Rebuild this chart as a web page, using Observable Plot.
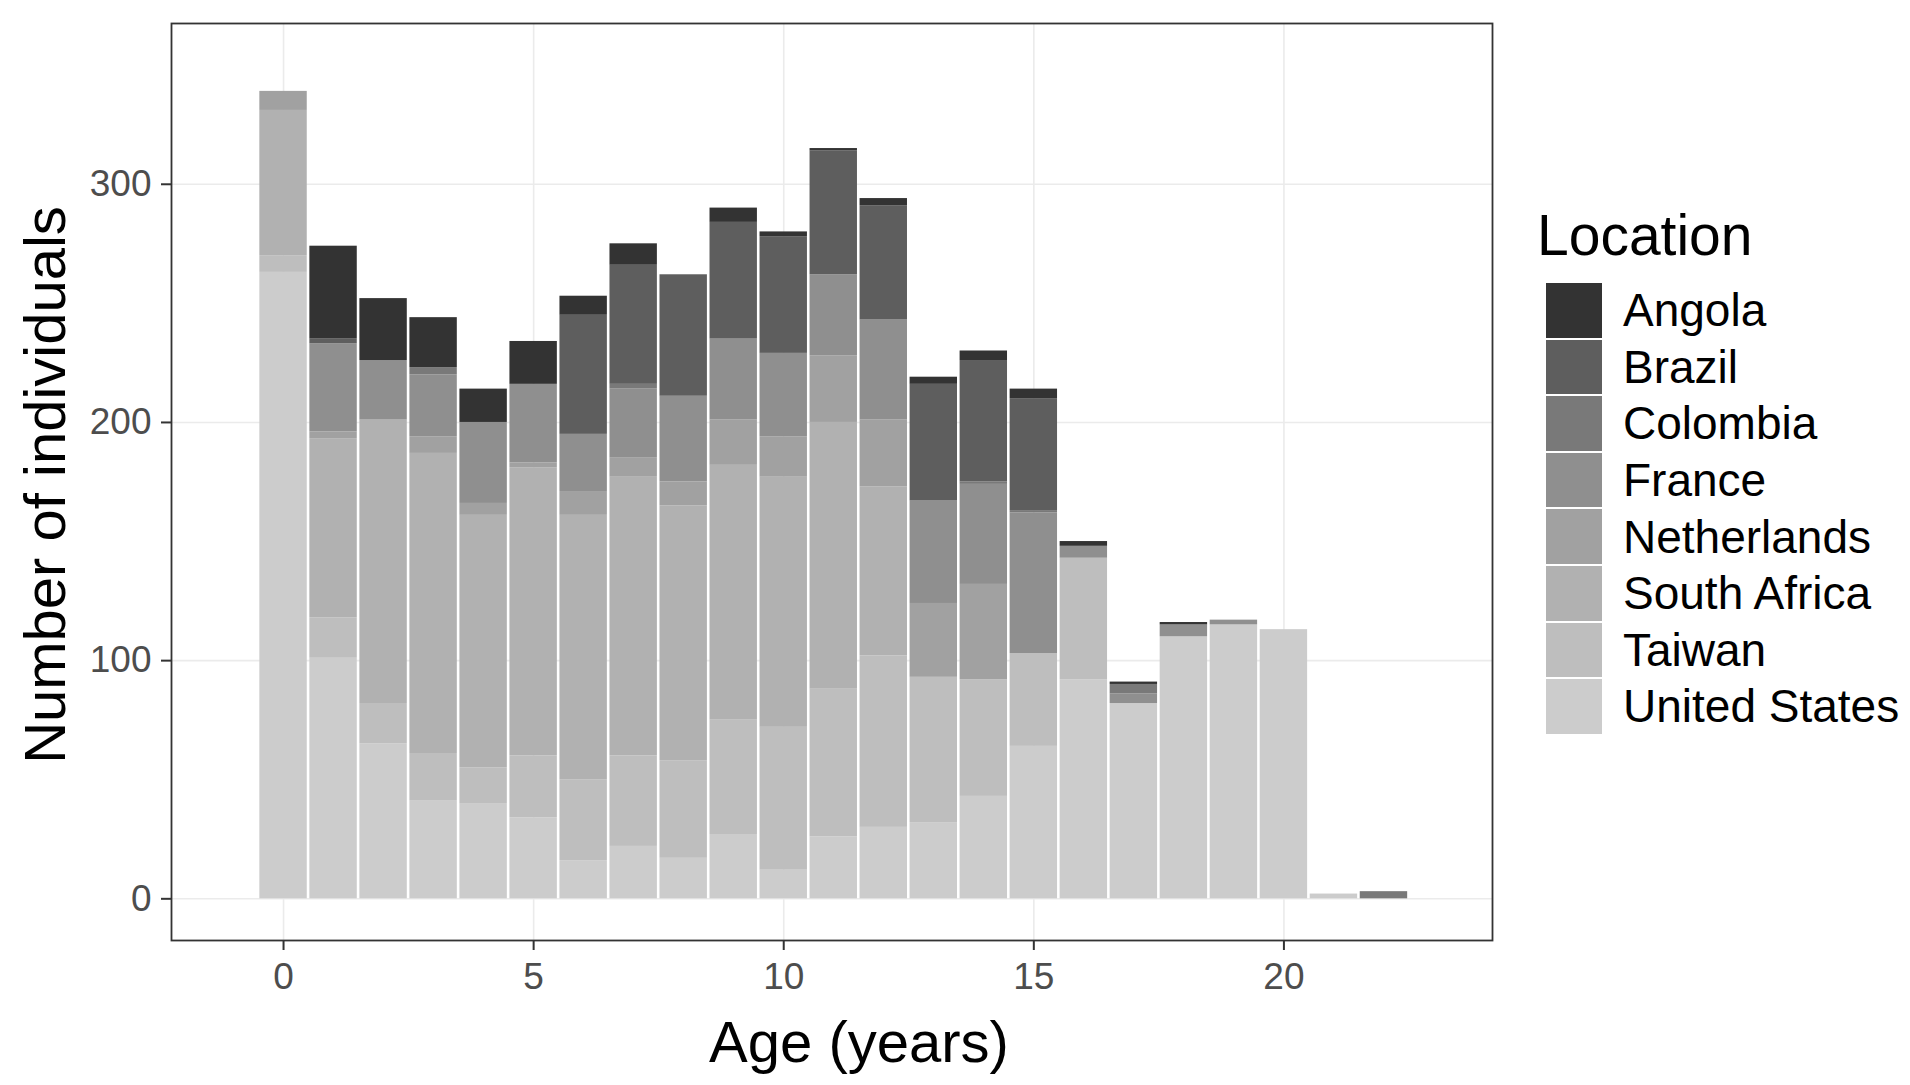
<!DOCTYPE html>
<html>
<head>
<meta charset="utf-8">
<script src="https://cdn.jsdelivr.net/npm/d3@7"></script>
<script src="https://cdn.jsdelivr.net/npm/@observablehq/plot@0.6"></script>
<style>
  html, body { margin: 0; padding: 0; background: #ffffff; }
  #wrap { position: relative; width: 1910px; height: 1085px; font-family: "Liberation Sans", Arial, sans-serif; }
  #chart svg g[aria-label="x-axis tick label"] text,
  #chart svg g[aria-label="y-axis tick label"] text { fill: #4D4D4D; }
  #legend { position: absolute; left: 1537px; top: 0px; }
  #legend .title { position: absolute; left: 0px; top: 207px; font-size: 57px; color: #000; white-space: nowrap; line-height: 1; }
  #legend .item { position: absolute; left: 9px; height: 56.6px; display: flex; align-items: center; white-space: nowrap; }
  #legend .sw { width: 56px; height: 54.6px; margin-bottom: 2px; }
  #legend .lab { font-size: 46px; color: #000; margin-left: 21px; line-height: 1; margin-bottom: 2px; }
</style>
</head>
<body>
<div id="wrap">
  <div id="chart"></div>
  <div id="legend"></div>
</div>
<script>
// ---- data ----
const ages = [0,1,2,3,4,5,6,7,8,9,10,11,12,13,14,15,16,17,18,19,20,21,22];
const locations = ["Angola","Brazil","Colombia","France","Netherlands","South Africa","Taiwan","United States"];
const greys = ["#333333","#5E5E5E","#797979","#8F8F8F","#A1A1A1","#B1B1B1","#BEBEBE","#CCCCCC"];

const angola       = [0,39,26,21,14,18,8,9,0,6,2,1,3,3,4,4,2,1,1,0,0,0,0];
const brazil       = [0,2,0,0,0,0,50,50,51,49,49,52,48,49,51,47,0,0,0,0,0,0,0];
const colombia     = [0,0,0,3,0,0,0,2,0,0,0,0,0,0,1,1,0,4,0,0,0,0,3];
const france       = [0,37,25,26,34,33,24,29,36,34,35,34,42,43,42,59,5,4,5,2,0,0,0];
const netherlands  = [8,3,0,7,5,2,10,8,10,19,17,28,28,31,40,0,0,0,0,0,0,0,0];
const southAfrica  = [61,75,119,126,106,121,111,117,107,107,105,112,71,0,0,0,0,0,0,0,0,0,0];
const taiwan       = [7,17,17,20,15,26,34,38,41,48,60,62,72,61,49,39,51,0,0,0,0,0,0];
const unitedStates = [263,101,65,41,40,34,16,22,17,27,12,26,30,32,43,64,92,82,110,115,113,2,0];

const xTicks = [0,5,10,15,20];
const yTicks = [0,100,200,300];
const xLabel = "Age (years)";
const yLabel = "Number of individuals";
const legendTitle = "Location";

// ---- build table ----
const series = {
  "Angola": angola, "Brazil": brazil, "Colombia": colombia, "France": france,
  "Netherlands": netherlands, "South Africa": southAfrica, "Taiwan": taiwan, "United States": unitedStates
};
const rows = [];
ages.forEach((age, i) => {
  // bottom of stack first: United States ... Angola on top
  locations.slice().reverse().forEach(loc => {
    const v = series[loc][i];
    if (v > 0) rows.push({age, location: loc, count: v});
  });
});

const font = "'Liberation Sans', Arial, sans-serif";

const chart = Plot.plot({
  width: 1910,
  height: 1085,
  marginLeft: 171,
  marginRight: 418,
  marginTop: 23,
  marginBottom: 145,
  style: {fontFamily: font, background: "#ffffff", overflow: "visible"},
  x: {domain: [-2.24, 24.17]},
  y: {domain: [-17.5, 367.5]},
  color: {domain: locations, range: greys},
  marks: [
    Plot.gridX(xTicks, {stroke: "#EBEBEB", strokeOpacity: 1, strokeWidth: 1.6}),
    Plot.gridY(yTicks, {stroke: "#EBEBEB", strokeOpacity: 1, strokeWidth: 1.6}),
    Plot.rectY(rows, {
      x1: d => d.age - 0.5,
      x2: d => d.age + 0.5,
      y: "count",
      fill: "location",
      insetLeft: 1.3,
      insetRight: 1.3
    }),
    Plot.frame({stroke: "#333333", strokeWidth: 1.8}),
    Plot.axisX({ticks: xTicks, tickSize: 10, tickPadding: 12, fontSize: 37, stroke: "#333333", strokeWidth: 2, label: null}),
    Plot.axisY({ticks: yTicks, tickSize: 10, tickPadding: 10, fontSize: 37, stroke: "#333333", strokeWidth: 2, label: null}),
    Plot.text([xLabel], {frameAnchor: "bottom", dx: 27, dy: 121, textAnchor: "middle", lineAnchor: "bottom", fontSize: 58, fill: "#000000"}),
    Plot.text([yLabel], {frameAnchor: "left", dx: -107, dy: 3, rotate: -90, textAnchor: "middle", lineAnchor: "bottom", fontSize: 58, fill: "#000000"})
  ]
});
document.getElementById("chart").appendChild(chart);

// ---- legend (HTML) ----
const legend = document.getElementById("legend");
const t = document.createElement("div");
t.className = "title";
t.textContent = legendTitle;
legend.appendChild(t);
const color = chart.scale("color");
locations.forEach((loc, i) => {
  const item = document.createElement("div");
  item.className = "item";
  item.style.top = (283 + i * 56.6) + "px";
  const sw = document.createElement("div");
  sw.className = "sw";
  sw.style.background = color.apply(loc);
  const lab = document.createElement("div");
  lab.className = "lab";
  lab.textContent = loc;
  item.appendChild(sw);
  item.appendChild(lab);
  legend.appendChild(item);
});
</script>
</body>
</html>
